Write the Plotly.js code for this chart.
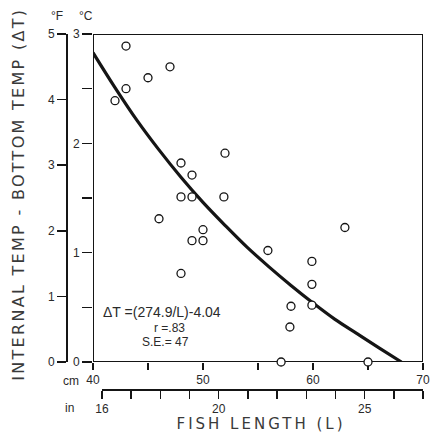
<!DOCTYPE html>
<html>
<head>
<meta charset="utf-8">
<script src="https://cdn.plot.ly/plotly-3.0.1.min.js"></script>
<style>
  html, body { margin: 0; padding: 0; background: #fff; }
  #chart { width: 437px; height: 436px; }
  g.annotation[data-index="0"] text.annotation-text { letter-spacing: 2.3px; }
  g.annotation[data-index="1"] text.annotation-text { letter-spacing: 3px; }
</style>
</head>
<body>
<div id="chart"></div>
<script>
// Observed fish: length (cm) and internal - bottom temperature difference (°C)
const lengthCm = [43.0, 47.0, 45.0, 43.0, 42.0, 48.0, 52.0, 49.0, 48.0, 49.0, 51.9, 46.0, 50.0,
                  49.0, 50.0, 48.0, 62.9, 55.9, 59.9, 59.9, 58.0, 59.9, 57.9, 57.1, 65.0];
const deltaC   = [2.89, 2.70, 2.60, 2.50, 2.39, 1.82, 1.91, 1.71, 1.51, 1.51, 1.51, 1.31, 1.21,
                  1.11, 1.11, 0.81, 1.23, 1.02, 0.92, 0.71, 0.51, 0.52, 0.32, 0.00, 0.00];

// Fitted curve
const curveL = [40, 42, 44, 46, 48, 50, 52, 54, 56, 58, 60, 62, 64, 66, 68.04];
const curveC = [2.83, 2.51, 2.21, 1.94, 1.69, 1.46, 1.25, 1.05, 0.87, 0.70, 0.54, 0.39, 0.26, 0.13, 0.00];

// Axis ticks
const cmTicks = [40, 45, 50, 55, 60, 65, 70];
const cmLabels = ['40', '', '50', '', '60', '', '70'];
const inTicks = [16, 17, 18, 19, 20, 21, 22, 23, 24, 25, 26, 27];
const inLabels = ['16', '', '', '', '20', '', '', '', '', '25', '', ''];
const cTicks = [0, 0.5, 1, 1.5, 2, 2.5, 3];
const cLabels = ['0', '', '1', '', '2', '', '3'];
const fTicks = [0, 1, 2, 3, 4, 5];
const fLabels = ['0', '1', '2', '3', '4', '5'];

const yTitle = 'INTERNAL TEMP - BOTTOM TEMP (ΔT)';
const xTitle = 'FISH LENGTH (L)';
const eqLines = ['ΔT =(274.9/L)-4.04', 'r =.83', 'S.E.= 47'];

const INK = '#151515';
const TXT = '#2a2a2a';
const numFont = { family: 'Liberation Sans, Arial, sans-serif', size: 12, color: TXT };
const titleFont = { family: 'DejaVu Sans, sans-serif', size: 16, color: '#3a3a3a', weight: 400 };

const traces = [
  { x: curveL, y: curveC, type: 'scatter', mode: 'lines',
    line: { color: INK, width: 3.2, shape: 'spline' },
    xaxis: 'x', yaxis: 'y', hoverinfo: 'skip', showlegend: false },
  { x: lengthCm, y: deltaC, type: 'scatter', mode: 'markers',
    marker: { symbol: 'circle', size: 8, color: '#ffffff', line: { color: INK, width: 1.3 } },
    cliponaxis: false, xaxis: 'x', yaxis: 'y', showlegend: false },
  // carriers for the secondary scales
  { x: [16, 27], y: [null, null], type: 'scatter', mode: 'markers',
    xaxis: 'x2', yaxis: 'y', showlegend: false, hoverinfo: 'skip' },
  { x: [null, null], y: [0, 5], type: 'scatter', mode: 'markers',
    xaxis: 'x', yaxis: 'y2', showlegend: false, hoverinfo: 'skip' }
];

const W = 437, H = 436;
const L = 66, R = 14, T = 34, B = 47;
const pw = W - L - R, ph = H - T - B;
const px = v => (v - L) / pw;
const py = v => (H - B - v) / ph;

const layout = {
  width: W, height: H,
  margin: { l: L, r: R, t: T, b: B, pad: 0 },
  paper_bgcolor: '#ffffff', plot_bgcolor: 'rgba(0,0,0,0)',
  showlegend: false,
  xaxis: {
    domain: [27 / pw, 1], range: [40, 70], anchor: 'y',
    showgrid: false, zeroline: false, showline: false,
    ticks: 'outside', ticklen: 7, tickwidth: 1.5, tickcolor: INK,
    tickmode: 'array', tickvals: cmTicks, ticktext: cmLabels,
    tickfont: numFont, layer: 'below traces'
  },
  xaxis2: {
    domain: [36 / pw, 1], range: [16, 27], anchor: 'free', position: 0,
    showgrid: false, zeroline: false, showline: true, linecolor: INK, linewidth: 1.6,
    ticks: 'outside', ticklen: 8, tickwidth: 1.5, tickcolor: INK,
    tickmode: 'array', tickvals: inTicks, ticktext: inLabels,
    tickfont: numFont
  },
  yaxis: {
    domain: [27 / ph, 1], range: [0, 3], anchor: 'x',
    showgrid: false, zeroline: false, showline: false,
    ticks: 'outside', ticklen: 10, tickwidth: 1.5, tickcolor: INK,
    tickmode: 'array', tickvals: cTicks, ticktext: cLabels,
    tickfont: numFont, layer: 'below traces'
  },
  yaxis2: {
    overlaying: 'y', range: [0, 5], anchor: 'free', position: 0, side: 'left',
    showgrid: false, zeroline: false, showline: true, linecolor: INK, linewidth: 1.8,
    ticks: 'outside', ticklen: 9, tickwidth: 1.5, tickcolor: INK,
    tickmode: 'array', tickvals: fTicks, ticktext: fLabels,
    tickfont: numFont
  },
  shapes: [
    { type: 'rect', xref: 'x', yref: 'y', x0: 40, x1: 70, y0: 0, y1: 3,
      line: { color: INK, width: 2 }, fillcolor: 'rgba(0,0,0,0)', layer: 'below' }
  ],
  annotations: [
    { text: yTitle, xref: 'paper', yref: 'paper', x: px(19), y: py(194),
      xanchor: 'center', yanchor: 'middle', textangle: -90, showarrow: false, font: titleFont },
    { text: xTitle, xref: 'paper', yref: 'paper', x: px(261), y: py(424),
      xanchor: 'center', yanchor: 'middle', showarrow: false,
      font: { family: 'DejaVu Sans, sans-serif', size: 15, color: '#3a3a3a', weight: 400 } },
    { text: '°F', xref: 'paper', yref: 'paper', x: px(57), y: py(16),
      xanchor: 'center', yanchor: 'middle', showarrow: false, font: numFont },
    { text: '°C', xref: 'paper', yref: 'paper', x: px(86), y: py(16),
      xanchor: 'center', yanchor: 'middle', showarrow: false, font: numFont },
    { text: 'cm', xref: 'paper', yref: 'paper', x: px(71), y: py(381),
      xanchor: 'center', yanchor: 'middle', showarrow: false, font: numFont },
    { text: 'in', xref: 'paper', yref: 'paper', x: px(69), y: py(408),
      xanchor: 'center', yanchor: 'middle', showarrow: false, font: numFont },
    { text: eqLines[0], xref: 'paper', yref: 'paper', x: px(162), y: py(312),
      xanchor: 'center', yanchor: 'middle', showarrow: false,
      font: { family: 'Liberation Sans, Arial, sans-serif', size: 14, color: TXT } },
    { text: eqLines[1], xref: 'paper', yref: 'paper', x: px(169), y: py(327.5),
      xanchor: 'center', yanchor: 'middle', showarrow: false,
      font: { family: 'Liberation Sans, Arial, sans-serif', size: 12, color: TXT } },
    { text: eqLines[2], xref: 'paper', yref: 'paper', x: px(165), y: py(342),
      xanchor: 'center', yanchor: 'middle', showarrow: false,
      font: { family: 'Liberation Sans, Arial, sans-serif', size: 12, color: TXT } }
  ]
};

Plotly.newPlot('chart', traces, layout, { staticPlot: true, displayModeBar: false });
</script>
</body>
</html>
